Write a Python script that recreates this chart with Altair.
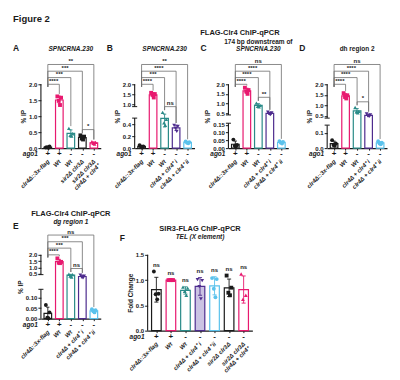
import json
import altair as alt
import numpy as np
import pandas as pd

FONT = "Liberation Sans"
BLACK = "#1a1a1a"
PINK = "#E8196F"
TEAL = "#2A8B88"
PURPLE = "#4E2C8E"
LBLUE = "#5BC2EC"
GREY = "#6e6e6e"
WHITE = "#ffffff"
LAVENDER = "#CBC3E3"

# ---------------- data ----------------
A_names = ["clr4Δ::3x-flag", "Wt", "Wt", "sir2Δ clr3Δ", "sir2Δ clr3Δ\nclr4Δ + clr4⁺"]
A_ago1 = ["+", "+", "-", "-", "-"]
A_vals = [[0.02, 0.05, 0.03, 0.01], [1.62, 1.58, 1.48, 1.35], [0.62, 0.45, 0.40, 0.38],
          [0.40, 0.36, 0.30, 0.27], [0.20, 0.18, 0.15, 0.13]]
A_comps = [(0, 4, "**"), (0, 3, "***"), (0, 2, "***"), (0, 1, "****")]
A_pair = [(3, 4, "*")]
A_yticks = [0.0, 0.5, 1.0, 1.5, 2.0]
A_ylabels = ["0.0", "0.5", "1.0", "1.5", "2.0"]

BCD_names = ["clr4Δ::3x-flag", "Wt", "Wt", "clr4Δ + clr4⁺ i", "clr4Δ + clr4⁺ ii"]
BCD_ago1 = ["+", "+", "-", "-", "-"]

B_vals = [[0.05, 0.03, 0.02, 0.01], [1.58, 1.52, 1.48, 1.35], [0.70, 0.48, 0.42, 0.38],
          [0.38, 0.36, 0.33, 0.28], [0.11, 0.10, 0.09, 0.08]]
B_comps = [(0, 4, "**"), (0, 3, "****"), (0, 2, "***"), (0, 1, "****")]
B_pair = [(2, 3, "ns")]
B_yticks = [0.0, 0.2, 0.4, 1.0, 1.5, 2.0]
B_ylabels = ["0.0", "0.2", "0.4", "1.0", "1.5", "2.0"]

C_vals = [[0.055, 0.02, 0.015, 0.01], [1.82, 1.70, 1.62, 1.50], [1.02, 0.90, 0.85, 0.82],
          [0.55, 0.50, 0.45, 0.42], [0.045, 0.04, 0.035, 0.03]]
C_comps = [(0, 4, "ns"), (0, 3, "****"), (0, 2, "****"), (0, 1, "****")]
C_pair = [(2, 3, "**")]
C_yticks = [0.0, 0.05, 0.10, 0.15, 0.5, 1.0, 1.5, 2.0]
C_ylabels = ["0.00", "0.05", "0.10", "0.15", "0.5", "1.0", "1.5", "2.0"]

D_vals = [[0.052, 0.03, 0.02, 0.015], [1.58, 1.48, 1.40, 1.33], [0.90, 0.72, 0.70, 0.65],
          [0.60, 0.55, 0.50, 0.48], [0.045, 0.035, 0.03, 0.025]]
D_comps = [(0, 4, "ns"), (0, 3, "****"), (0, 2, "****"), (0, 1, "****")]
D_pair = [(2, 3, "*")]
D_yticks = [0.0, 0.1, 0.5, 1.0, 1.5, 2.0]
D_ylabels = ["0.0", "0.1", "0.5", "1.0", "1.5", "2.0"]

E_vals = [[0.065, 0.03, 0.005, 0.002], [1.72, 1.45, 1.38, 1.35], [0.48, 0.45, 0.42, 0.40],
          [0.44, 0.42, 0.40, 0.38], [0.045, 0.04, 0.035, 0.03]]
E_comps = [(0, 4, "ns"), (0, 3, "***"), (0, 2, "***"), (0, 1, "****")]
E_pair = [(2, 3, "ns")]
E_yticks = [0.0, 0.05, 0.10, 0.5, 1.0, 1.5, 2.0]
E_ylabels = ["0.00", "0.05", "0.10", "0.5", "1.0", "1.5", "2.0"]

F_names = ["clr4Δ::3x-flag", "Wt", "Wt", "clr4Δ + clr4⁺ i", "clr4Δ + clr4⁺ ii",
           "sir2Δ clr3Δ", "sir2Δ clr3Δ\nclr4Δ + clr4⁺"]
F_ago1 = ["+", "+", "-", "-", "-", "-", "-"]
F_vals = [[1.17, 0.73, 0.72, 0.62], [1.0, 1.0, 1.0, 1.0], [0.86, 0.84, 0.78, 0.70],
          [1.01, 0.99, 0.87, 0.63], [1.04, 1.02, 0.83, 0.66], [1.09, 0.85, 0.75, 0.70],
          [1.12, 0.70, 0.62]]
F_yticks = [0.0, 0.5, 1.0, 1.5]
F_ylabels = ["0.0", "0.5", "1.0", "1.5"]

COL5 = [BLACK, PINK, TEAL, PURPLE, LBLUE]
SHP5 = ["circle", "square", "triangle-up", "triangle-down", "circle"]

JIT = [-0.17, 0.15, -0.05, 0.06]
LEVELS = [1.31, 1.205, 1.105, 1.0]


def disp_fn(brk, top):
    def f(v):
        v = max(v, 0.0)
        if brk is None:
            return v / top
        lm, fl, um, fu = brk
        if v <= lm:
            return v / lm * fl
        if v <= um:
            return fl + (v - lm) / (um - lm) * (fu - fl)
        return fu + (v - um) / (top - um) * (1 - fu)
    return f


def make_panel(names, ago1, colors, shapes, fills, vals, comps, pair, yticks, ylabels,
               brk, top, ytitle, letter, titles, W, H, ns_each=False,
               letter_ref=None, letter_dy=-14):
    n = len(names)
    d = disp_fn(brk, top)
    XMIN, XMAX = -0.6, n - 0.4
    bars, pts, segs, labs = [], [], [], []
    tops = []
    for i in range(n):
        v = np.array(vals[i], dtype=float)
        m = v.mean()
        s = v.std(ddof=1)
        bars.append(dict(x=i - 0.33, x2=i + 0.33, y=0.0, y2=d(m), stroke=colors[i], fill=fills[i]))
        for k, val in enumerate(vals[i]):
            pts.append(dict(x=i + JIT[k], y=d(val), color=colors[i], shape=shapes[i]))
        hi = d(m + s)
        lo = d(max(m - s, 0))
        segs += [dict(x=i, x2=i, y=lo, y2=hi, color=colors[i], w=0.9),
                 dict(x=i - 0.14, x2=i + 0.14, y=hi, y2=hi, color=colors[i], w=0.9),
                 dict(x=i - 0.14, x2=i + 0.14, y=lo, y2=lo, color=colors[i], w=0.9)]
        tops.append(max(hi, d(max(vals[i]))))
        if ns_each:
            labs.append(dict(x=i, y=tops[i] + 0.045, t="ns"))
    # spine
    if brk is None:
        segs.append(dict(x=XMIN, x2=XMIN, y=0.0, y2=1.0, color=BLACK, w=1.1))
    else:
        lm, fl, um, fu = brk
        segs.append(dict(x=XMIN, x2=XMIN, y=0.0, y2=fl, color=BLACK, w=1.1))
        segs.append(dict(x=XMIN, x2=XMIN, y=fu, y2=1.0, color=BLACK, w=1.1))
        for yy in (fl, fu):
            segs.append(dict(x=XMIN - 0.22, x2=XMIN + 0.22, y=yy, y2=yy, color=BLACK, w=1.0))
    # brackets
    leftlow = LEVELS[-1] - 0.04
    for k, (i, j, lab) in enumerate(comps):
        L = LEVELS[k]
        segs.append(dict(x=i, x2=j, y=L, y2=L, color=GREY, w=0.8))
        segs.append(dict(x=i, x2=i, y=L, y2=min(leftlow, L - 0.02), color=GREY, w=0.8))
        segs.append(dict(x=j, x2=j, y=L, y2=min(tops[j] + 0.035, L - 0.02), color=GREY, w=0.8))
        labs.append(dict(x=(i + j) / 2, y=L, t=lab))
    for (i, j, lab) in pair:
        L = max(tops[i], tops[j]) + 0.09
        segs.append(dict(x=i, x2=j, y=L, y2=L, color=GREY, w=0.8))
        segs.append(dict(x=i, x2=i, y=L, y2=tops[i] + 0.035, color=GREY, w=0.8))
        segs.append(dict(x=j, x2=j, y=L, y2=tops[j] + 0.035, color=GREY, w=0.8))
        labs.append(dict(x=(i + j) / 2, y=L, t=lab))

    xs = alt.Scale(domain=[XMIN, XMAX], nice=False, zero=False)
    ys = alt.Scale(domain=[0, 1], nice=False, zero=True)
    names_js = json.dumps(names)
    xaxis = alt.Axis(values=list(range(n)), labelExpr=f"split({names_js}[datum.value], '\\n')",
                     labelAngle=315, labelAlign="right", labelBaseline="middle",
                     labelPadding=10, labelFont=FONT, labelFontSize=6, labelFontWeight="bold",
                     labelFontStyle="italic", labelColor=BLACK, labelOverlap=False,
                     labelFlush=False, labelBound=False, labelLineHeight=6.5,
                     tickSize=2, tickColor=BLACK, domainColor=BLACK, domainWidth=1.1,
                     grid=False, title=None)
    dt = [round(d(t), 6) for t in yticks]
    expr = "''"
    for dv, lab in reversed(list(zip(dt, ylabels))):
        expr = f"abs(datum.value-{dv:.6f})<0.0005?'{lab}':({expr})"
    yaxis = alt.Axis(values=dt, labelExpr=expr, domain=False, grid=False, tickSize=3,
                     tickColor=BLACK, tickWidth=1, labelFont=FONT, labelFontSize=6,
                     labelFontWeight="bold", labelColor=BLACK, labelPadding=1,
                     labelOverlap=False, labelFlush=False, title=ytitle, titleFont=FONT,
                     titleFontSize=6.5, titleFontWeight="bold", titleColor=BLACK,
                     titlePadding=2)

    def X(field="x"):
        return alt.X(f"{field}:Q", scale=xs, axis=xaxis)

    def Y(field="y"):
        return alt.Y(f"{field}:Q", scale=ys, axis=yaxis)

    bars_l = alt.Chart(pd.DataFrame(bars)).mark_bar(strokeWidth=1.2).encode(
        x=X(), x2="x2:Q", y=Y(), y2="y2:Q",
        stroke=alt.Stroke("stroke:N", scale=None), fill=alt.Fill("fill:N", scale=None))
    segs_l = alt.Chart(pd.DataFrame(segs)).mark_rule().encode(
        x=X(), x2="x2:Q", y=Y(), y2="y2:Q",
        color=alt.Color("color:N", scale=None),
        strokeWidth=alt.StrokeWidth("w:Q", scale=None))
    pts_l = alt.Chart(pd.DataFrame(pts)).mark_point(filled=True, size=15, opacity=1).encode(
        x=X(), y=Y(),
        color=alt.Color("color:N", scale=None), shape=alt.Shape("shape:N", scale=None))
    layers = [bars_l, segs_l, pts_l]
    if labs:
        layers.append(alt.Chart(pd.DataFrame(labs)).mark_text(
            font=FONT, fontSize=6, fontWeight="bold", baseline="alphabetic", dy=-1.5, color=BLACK
        ).encode(x=X(), y=Y(), text="t:N"))
    ago = pd.DataFrame({"x": list(range(n)), "s": ago1})
    layers.append(alt.Chart(ago).mark_text(font=FONT, fontSize=8, fontWeight="bold", color=BLACK).encode(
        x=X(), y=alt.value(H + 6), text="s:N"))
    layers.append(alt.Chart(pd.DataFrame({"t": ["ago1"]})).mark_text(
        font=FONT, fontSize=6.5, fontWeight="bold", fontStyle="italic", align="right", color=BLACK
    ).encode(x=alt.value(-3), y=alt.value(H + 6), text="t:N"))
    ref = letter_ref if letter_ref is not None else LEVELS[0]
    for (txt, style, size, dy) in titles:
        layers.append(alt.Chart(pd.DataFrame({"t": [txt], "x": [(n - 1) / 2], "y": [ref]})).mark_text(
            font=FONT, fontSize=size, fontWeight="bold", fontStyle=style, baseline="alphabetic",
            dy=dy, color=BLACK
        ).encode(x=X(), y=Y(), text="t:N"))
    layers.append(alt.Chart(pd.DataFrame({"t": [letter], "y": [ref]})).mark_text(
        font=FONT, fontSize=8.5, fontWeight="bold", align="left", baseline="alphabetic",
        dy=letter_dy, color=BLACK
    ).encode(x=alt.value(-28), y=Y(), text="t:N"))
    return alt.layer(*layers).properties(width=W, height=H)


W1, H1 = 60, 64
wf5 = [WHITE] * 5
pA = make_panel(A_names, A_ago1, [BLACK, PINK, TEAL, BLACK, PINK],
                ["circle", "square", "triangle-up", "square", "triangle-up"], wf5,
                A_vals, A_comps, A_pair, A_yticks, A_ylabels, None, 2.0, "% IP", "A",
                [("SPNCRNA.230", "italic", 6.5, -14)], W1, H1)
pB = make_panel(BCD_names, BCD_ago1, COL5, SHP5, wf5, B_vals, B_comps, B_pair,
                B_yticks, B_ylabels, (0.5, 0.47, 0.9, 0.65), 2.0, "% IP", "B",
                [("SPNCRNA.230", "italic", 6.5, -14)], W1, H1)
pC = make_panel(BCD_names, BCD_ago1, COL5, SHP5, wf5, C_vals, C_comps, C_pair,
                C_yticks, C_ylabels, (0.16, 0.39, 0.4, 0.52), 2.0, "% IP", "C",
                [("174 bp downstream of", "normal", 6.5, -21), ("SPNCRNA.230", "italic", 6.5, -14)],
                W1, H1)
pD = make_panel(BCD_names, BCD_ago1, COL5, SHP5, wf5, D_vals, D_comps, D_pair,
                D_yticks, D_ylabels, (0.15, 0.36, 0.4, 0.47), 2.0, "% IP", "D",
                [("dh region 2", "normal", 6.5, -14)], W1, H1)
pE = make_panel(BCD_names, BCD_ago1, COL5, SHP5, wf5, E_vals, E_comps, E_pair,
                E_yticks, E_ylabels, (0.14, 0.46, 0.45, 0.69), 2.0, "% IP", "E",
                [("FLAG-Clr4 ChIP-qPCR", "normal", 7.5, -19), ("dg region 1", "italic", 6.5, -11)],
                W1, H1, letter_dy=-6)
pF = make_panel(F_names, F_ago1, [BLACK, PINK, TEAL, PURPLE, LBLUE, BLACK, PINK],
                ["circle", "square", "triangle-up", "triangle-down", "circle", "square", "triangle-up"],
                [WHITE, WHITE, WHITE, LAVENDER, WHITE, WHITE, WHITE],
                F_vals, [], [], F_yticks, F_ylabels, None, 1.5, "Fold Change", "F",
                [("SIR3-FLAG ChIP-qPCR", "normal", 7.5, -24), ("TEL (X element)", "italic", 6.5, -16)],
                105, 76, ns_each=True, letter_ref=1.0, letter_dy=-14)

row1 = alt.hconcat(pA, pB, pC, pD, spacing=6).properties(
    title=alt.TitleParams("FLAG-Clr4 ChIP-qPCR", anchor="middle", dx=40, font=FONT,
                          fontSize=7.5, fontWeight="bold", color=BLACK, offset=2))
row2 = alt.hconcat(pE, pF, spacing=9)

chart = alt.vconcat(row1, row2, spacing=19).properties(
    title=alt.TitleParams("Figure 2", anchor="start", font=FONT, fontSize=9.5,
                          fontWeight="bold", color=BLACK, offset=6)
).configure(font=FONT).configure_view(stroke=None)

chart.save("out.html", embed_options={"renderer": "svg", "actions": False})
